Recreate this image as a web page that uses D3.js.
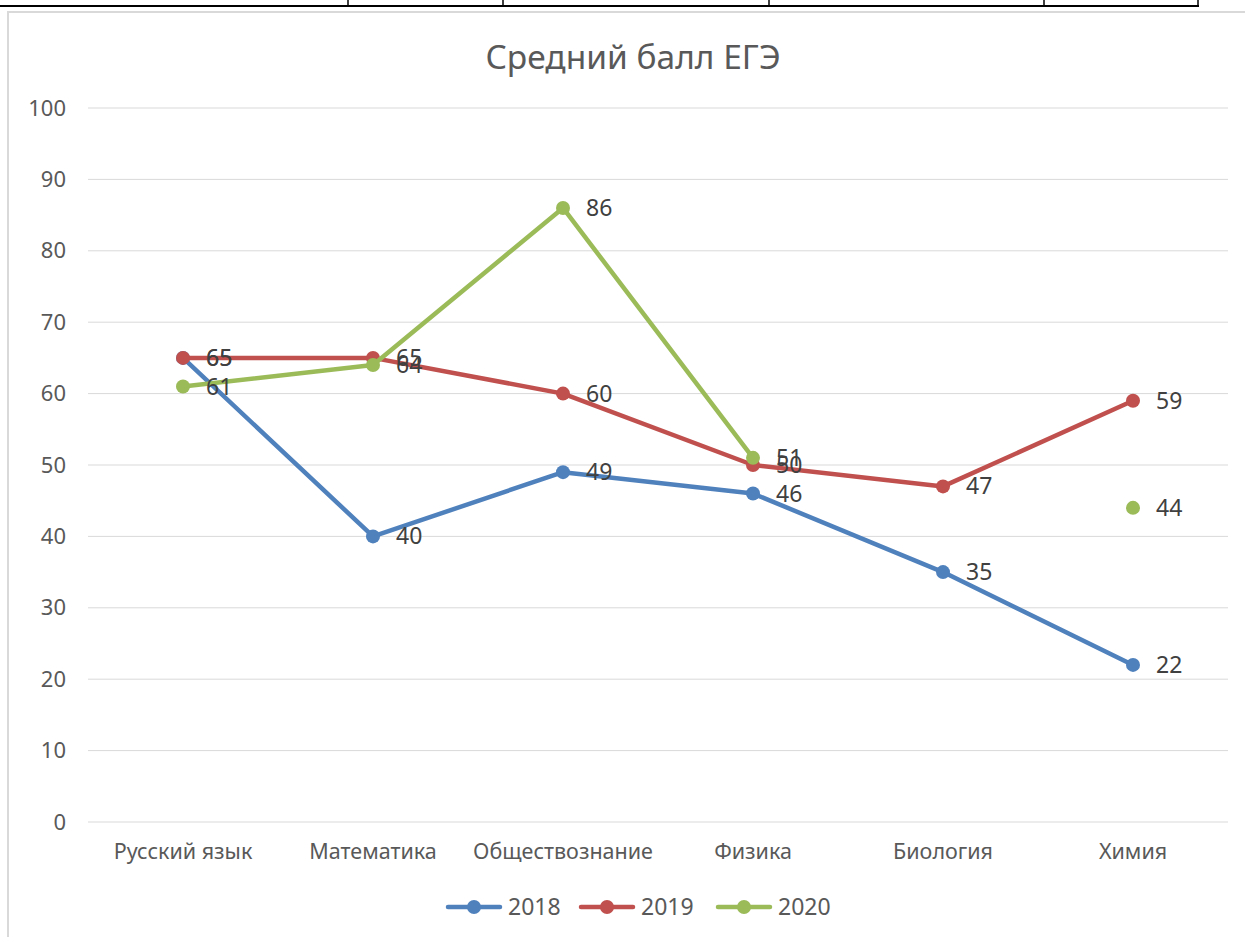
<!DOCTYPE html>
<html>
<head>
<meta charset="utf-8">
<script src="https://cdn.jsdelivr.net/npm/d3@7"></script>
<style>
  body { margin: 0; background: #fff; }
  svg { display: block; font-family: "Noto Sans", "Open Sans", sans-serif; }
</style>
</head>
<body>
<div id="chart"></div>
<script>
// data
var categories = ["Русский язык", "Математика", "Обществознание", "Физика", "Биология", "Химия"];
var years = ["2018", "2019", "2020"];
var values2018 = [65, 40, 49, 46, 35, 22];
var values2019 = [65, 65, 60, 50, 47, 59];
var values2020 = [61, 64, 86, 51, null, 44];
var yTicks = [0, 10, 20, 30, 40, 50, 60, 70, 80, 90, 100];
var colors = ["#4F81BD", "#C0504D", "#9BBB59"];

var seriesValues = [values2018, values2019, values2020];

var width = 1245, height = 937;
var margin = {top: 108, right: 17, bottom: 115, left: 88};
var innerW = width - margin.left - margin.right;
var innerH = height - margin.top - margin.bottom;

var svg = d3.select("#chart").append("svg")
    .attr("width", width)
    .attr("height", height);

// page bits around the chart (table border on top, chart frame)
var pageCols = [348, 503, 769, 1044, 1198];
svg.append("line")
    .attr("x1", 0).attr("x2", 1199).attr("y1", 6).attr("y2", 6)
    .attr("stroke", "#000").attr("stroke-width", 2);
svg.selectAll(".pagecol").data(pageCols).enter().append("line")
    .attr("x1", function(d) { return d; }).attr("x2", function(d) { return d; })
    .attr("y1", 0).attr("y2", 6)
    .attr("stroke", "#000").attr("stroke-width", 1.5);
svg.append("path")
    .attr("d", "M8,937 V12 H1245")
    .attr("fill", "none").attr("stroke", "#d9d9d9").attr("stroke-width", 2);

// title
svg.append("text")
    .attr("x", 633).attr("y", 57)
    .attr("dy", ".35em")
    .attr("text-anchor", "middle")
    .attr("font-size", 33.5)
    .attr("fill", "#595959")
    .text("Средний балл ЕГЭ");

var g = svg.append("g")
    .attr("transform", "translate(" + margin.left + "," + margin.top + ")");

var xScale = d3.scaleBand().domain(categories).range([0, innerW]);
var yScale = d3.scaleLinear().domain([0, 100]).range([innerH, 0]);

// gridlines
g.selectAll(".grid").data(yTicks).enter().append("line")
    .attr("x1", 0).attr("x2", innerW)
    .attr("y1", function(d) { return yScale(d); })
    .attr("y2", function(d) { return yScale(d); })
    .attr("stroke", "#d9d9d9").attr("stroke-width", 1);

// y axis
var yAxis = g.append("g")
    .call(d3.axisLeft(yScale).tickValues(yTicks).tickSize(0).tickPadding(22));
yAxis.select(".domain").remove();
yAxis.selectAll("text")
    .attr("font-size", 22).attr("fill", "#595959")
    .attr("font-family", "\"Noto Sans\", sans-serif");

// x axis
var xAxis = g.append("g")
    .attr("transform", "translate(0," + innerH + ")")
    .call(d3.axisBottom(xScale).tickSize(0).tickPadding(22));
xAxis.select(".domain").remove();
xAxis.selectAll("text")
    .attr("font-size", 21.5).attr("fill", "#595959")
    .attr("font-family", "\"Noto Sans\", sans-serif");

function cx(i) { return xScale(categories[i]) + xScale.bandwidth() / 2; }

var line = d3.line()
    .defined(function(d) { return d != null; })
    .x(function(d, i) { return cx(i); })
    .y(function(d) { return yScale(d); });

seriesValues.forEach(function(vals, s) {
    g.append("path")
        .datum(vals)
        .attr("fill", "none")
        .attr("stroke", colors[s])
        .attr("stroke-width", 4.5)
        .attr("stroke-linejoin", "round")
        .attr("d", line);

    var pts = vals.map(function(v, i) { return {v: v, i: i}; })
        .filter(function(d) { return d.v != null; });

    g.selectAll(".pt" + s).data(pts).enter().append("circle")
        .attr("cx", function(d) { return cx(d.i); })
        .attr("cy", function(d) { return yScale(d.v); })
        .attr("r", 7)
        .attr("fill", colors[s]);
});

// data labels on top
seriesValues.forEach(function(vals, s) {
    var pts = vals.map(function(v, i) { return {v: v, i: i}; })
        .filter(function(d) { return d.v != null; });
    g.selectAll(".lbl" + s).data(pts).enter().append("text")
        .attr("x", function(d) { return cx(d.i) + 23; })
        .attr("y", function(d) { return yScale(d.v); })
        .attr("dy", ".35em")
        .attr("font-size", 23)
        .attr("fill", "#404040")
        .text(function(d) { return d.v; });
});

// legend
var legendX = [448, 581, 718];
var legend = svg.selectAll(".legend").data(years).enter().append("g")
    .attr("transform", function(d, i) { return "translate(" + legendX[i] + ",907)"; });
legend.append("line")
    .attr("x1", 0).attr("x2", 52).attr("y1", 0).attr("y2", 0)
    .attr("stroke", function(d, i) { return colors[i]; })
    .attr("stroke-width", 4.5).attr("stroke-linecap", "round");
legend.append("circle")
    .attr("cx", 26).attr("cy", 0).attr("r", 7)
    .attr("fill", function(d, i) { return colors[i]; });
legend.append("text")
    .attr("x", 60).attr("y", 0).attr("dy", ".35em")
    .attr("font-size", 23).attr("fill", "#595959")
    .text(function(d) { return d; });
</script>
</body>
</html>
